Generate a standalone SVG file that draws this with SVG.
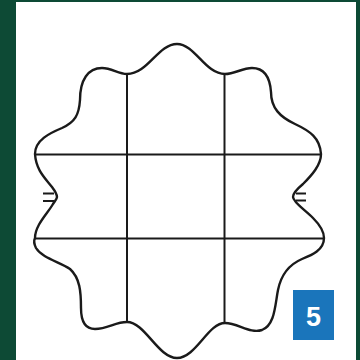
<svg xmlns="http://www.w3.org/2000/svg" width="360" height="360" viewBox="0 0 360 360">
<style>
.ln{fill:none;stroke:#1a1a1a;stroke-width:2.4;stroke-linecap:round;stroke-linejoin:round}
.tk{fill:none;stroke:#1a1a1a;stroke-width:1.8;stroke-linecap:butt}
.grid{fill:none;stroke:#1a1a1a;stroke-width:2}
.badge{fill:#1a75bb}
.num{fill:#ffffff;font-family:"Liberation Sans",Arial,sans-serif;font-weight:bold;font-size:27px;text-anchor:middle}
</style>
<rect x="0" y="0" width="360" height="360" fill="#0d4a35"/>
<rect x="16" y="2" width="340" height="358" fill="#ffffff"/>
<g id="outline">
<path class="ln" d="M177,44 C195,44 205,74 225,74 C235,74 242,68 252,68 C265,68 270,78 271,92 C271,108 280,117 295,124 C310,131 320,138 321,154 C321,165 312,175 303,184 C297,189 293,193 293,197 C293,202 305,210 313,218 C320,225 324,232 324,238 C324,250 312,255 302,259 C288,265 281,275 278,290 C275,305 275,325 262,330 C250,334 238,323 225,323 C208,323 196,358 177,358 C158,358 145,322 127,322 C115,322 108,329 95,329 C84,329 81,320 81,308 C81,292 80,278 70,269 C60,262 42,258 36,248 C34,244 34,240 35,238 C35,225 48,213 53,204 C55,201 57,199 57,197 C57,194 55,191 52,187 C45,178 36,170 35,154 C35,140 50,133 62,128 C75,122 79,115 80,100 C80,80 88,68 102,68 C112,68 118,74 127,74 C148,74 158,44 177,44 Z"/>
<path class="tk" d="M43,193.5 H54 M43,201 H54 M296,193.5 H306 M296,200.5 H306"/>
</g>
<g id="connectors">
<line class="grid" x1="127" y1="74" x2="127" y2="322"/>
<line class="grid" x1="224.5" y1="74" x2="224.5" y2="323"/>
<line class="grid" x1="35" y1="154.5" x2="321" y2="154.5"/>
<line class="grid" x1="35" y1="238.5" x2="324" y2="238.5"/>
</g>
<g id="badge">
<rect class="badge" x="293" y="290" width="41" height="50"/>
<text class="num" x="313.5" y="326">5</text>
</g>
</svg>
